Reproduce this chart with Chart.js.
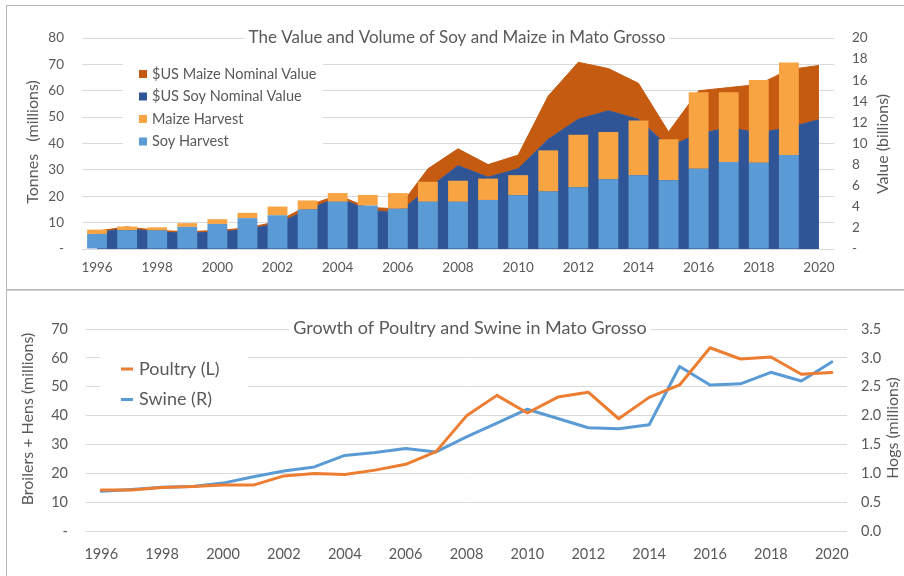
<!DOCTYPE html>
<html>
<head>
<meta charset="utf-8">
<script src="https://cdn.jsdelivr.net/npm/chart.js@4.4.1/dist/chart.umd.min.js"></script>
<style>
  html, body { margin: 0; padding: 0; background: #fff; }
  body { width: 904px; height: 576px; position: relative; overflow: hidden; }
  .frame { position: absolute; border: 1px solid #b8b8b8; box-sizing: border-box; }
  #frame-top { left: 6px; top: 5px; width: 920px; height: 285px; }
  #frame-bottom { left: 6px; top: 290px; width: 920px; height: 300px; border-top-color: #d0d0d0; }
  canvas { position: absolute; left: 0; }
  #chart-value { top: 0; }
  #chart-livestock { top: 290px; }
</style>
</head>
<body>
<div class="frame" id="frame-top"></div>
<div class="frame" id="frame-bottom"></div>
<canvas id="chart-value" width="904" height="290"></canvas>
<canvas id="chart-livestock" width="904" height="286"></canvas>
<script>
// Données (Mato Grosso)
const years = ['1996', '1997', '1998', '1999', '2000', '2001', '2002', '2003', '2004', '2005', '2006', '2007',
    '2008', '2009', '2010', '2011', '2012', '2013', '2014', '2015', '2016', '2017', '2018', '2019', '2020'];

// tonnes (millions)
const soyHarvest = [5.7, 7.1, 7.1, 8.4, 9.5, 11.7, 12.8, 15.0, 17.9, 16.5, 15.3, 17.9,
    17.9, 18.6, 20.4, 21.8, 23.4, 26.4, 28.0, 26.1, 30.4, 33.0, 32.7, 35.6, null];
const maizeHarvest = [1.65, 1.4, 1.1, 1.4, 1.8, 2.0, 3.3, 3.4, 3.3, 4.0, 5.9, 7.6,
    8.0, 8.1, 7.6, 15.6, 19.9, 18.0, 20.7, 15.5, 29.0, 26.4, 31.4, 35.1, null];

// valeur nominale, $US (milliards)
const soyValue = [1.55, 1.95, 1.6, 1.5, 1.6, 1.85, 2.4, 3.7, 4.9, 3.7, 3.4, 5.7,
    7.9, 6.8, 7.6, 10.4, 12.3, 13.1, 12.3, 9.7, 10.9, 11.5, 11.0, 11.5, 12.25];
const maizeValue = [0.15, 0.15, 0.15, 0.15, 0.15, 0.15, 0.2, 0.4, 0.2, 0.25, 0.4, 1.9,
    1.6, 1.2, 1.3, 4.1, 5.4, 4.0, 3.4, 1.4, 4.1, 3.8, 4.6, 5.5, 5.15];

// volailles (millions, axe gauche) et porcs (millions, axe droit)
const poultry = [14.2, 14.2, 15.1, 15.4, 15.9, 15.9, 19.1, 19.9, 19.6, 21.1, 23.1, 27.5,
    39.9, 47.0, 40.9, 46.4, 48.1, 38.9, 46.3, 50.6, 63.5, 59.6, 60.3, 54.3, 54.9];
const swine = [0.69, 0.72, 0.76, 0.77, 0.83, 0.94, 1.04, 1.11, 1.31, 1.36, 1.43, 1.37,
    1.63, 1.87, 2.11, 1.95, 1.79, 1.77, 1.84, 2.85, 2.53, 2.55, 2.75, 2.60, 2.93];

const textColor = '#595959';
const gridColor = '#d9d9d9';
const fontFamily = 'Lato, "Open Sans", sans-serif';

Chart.defaults.font.family = fontFamily;
Chart.defaults.color = textColor;

// Titre, titres d'axes et légende dessinés à la main (fond blanc par-dessus la grille)
const decor = {
    id: 'decor',
    afterDatasetsDraw(chart, args, opts) {
        const ctx = chart.ctx;
        ctx.save();
        ctx.textBaseline = 'middle';

        if (opts.legend) {
            const lg = opts.legend;
            ctx.fillStyle = '#fff';
            ctx.fillRect(lg.box[0], lg.box[1], lg.box[2], lg.box[3]);
            ctx.font = lg.font;
            ctx.textAlign = 'left';
            lg.items.forEach((idx, i) => {
                const ds = chart.data.datasets[idx];
                const y = lg.y + i * lg.gap;
                const color = ds.type === 'line' && lg.marker === 'line' ? ds.borderColor : ds.backgroundColor;
                if (lg.marker === 'line') {
                    ctx.strokeStyle = color;
                    ctx.lineWidth = 3;
                    ctx.beginPath();
                    ctx.moveTo(lg.x, y);
                    ctx.lineTo(lg.x + 12, y);
                    ctx.stroke();
                } else {
                    ctx.fillStyle = color;
                    ctx.fillRect(lg.x, y - 4, 8, 8);
                }
                ctx.fillStyle = textColor;
                ctx.fillText(ds.label, lg.textX, y);
            });
        }

        if (opts.title) {
            const t = opts.title;
            ctx.font = t.font;
            const w = ctx.measureText(t.text).width;
            ctx.fillStyle = '#fff';
            ctx.fillRect(t.x - w / 2 - 4, t.y - 10, w + 8, 20);
            ctx.fillStyle = textColor;
            ctx.textAlign = 'center';
            ctx.fillText(t.text, t.x, t.y);
        }

        (opts.axisTitles || []).forEach(a => {
            ctx.save();
            ctx.translate(a.x, a.y);
            ctx.rotate(-Math.PI / 2);
            ctx.font = a.font;
            ctx.fillStyle = textColor;
            ctx.textAlign = 'center';
            ctx.fillText(a.text, 0, 0);
            ctx.restore();
        });
        ctx.restore();
    }
};

const dashZero = v => (v === 0 ? '-' : v);

// --- Graphique du haut : volumes (barres) et valeurs (aires empilées)
new Chart(document.getElementById('chart-value'), {
    data: {
        labels: years,
        datasets: [
            {
                type: 'line', label: '$US Soy Nominal Value', data: soyValue, yAxisID: 'y2', stack: 'value',
                backgroundColor: '#2F5597', borderColor: '#2F5597', borderWidth: 1, pointRadius: 0,
                fill: 'origin', order: 2,
            },
            {
                type: 'line', label: '$US Maize Nominal Value', data: maizeValue, yAxisID: 'y2', stack: 'value',
                backgroundColor: '#C55A11', borderColor: '#C55A11', borderWidth: 1, pointRadius: 0,
                fill: '-1', order: 2,
            },
            {
                type: 'bar', label: 'Soy Harvest', data: soyHarvest, yAxisID: 'y', stack: 'harvest',
                backgroundColor: '#5B9BD5', barPercentage: 0.66, categoryPercentage: 1, order: 1,
            },
            {
                type: 'bar', label: 'Maize Harvest', data: maizeHarvest, yAxisID: 'y', stack: 'harvest',
                backgroundColor: '#F9A443', barPercentage: 0.66, categoryPercentage: 1, order: 1,
            },
        ],
    },
    options: {
        responsive: false,
        animation: false,
        layout: { padding: { top: 38, left: 0, right: 0, bottom: 0 } },
        plugins: {
            legend: { display: false },
            tooltip: { enabled: false },
            decor: {
                title: { text: 'The Value and Volume of Soy and Maize in Mato Grosso', x: 457, y: 38, font: '17px ' + fontFamily },
                axisTitles: [
                    { text: 'Tonnes   (millions)', x: 33, y: 142, font: '16px ' + fontFamily },
                    { text: 'Value (billions)', x: 883, y: 144, font: '16px ' + fontFamily },
                ],
                legend: {
                    box: [123, 58, 200, 98], items: [1, 0, 3, 2], x: 139, textX: 152, y: 74, gap: 22.5,
                    marker: 'box', font: '14.5px ' + fontFamily,
                },
            },
        },
        scales: {
            x: {
                stacked: true, offset: true,
                grid: { display: false, drawTicks: false }, border: { display: false },
                ticks: {
                    autoSkip: false, maxRotation: 0, padding: 11, font: { size: 13.5 },
                    callback: (v, i) => (i % 2 ? '' : years[i]),
                },
                afterFit: s => { s.height = 41; },
            },
            y: {
                position: 'left', stacked: true, min: 0, max: 80,
                grid: { color: gridColor, drawTicks: false }, border: { display: false },
                ticks: { stepSize: 10, padding: 18, font: { size: 13.5 }, callback: dashZero },
                afterFit: s => { s.width = 82; },
            },
            y2: {
                position: 'right', stacked: true, min: 0, max: 20,
                grid: { display: false, drawTicks: false }, border: { display: false },
                ticks: { stepSize: 2, padding: 18, font: { size: 13.5 }, callback: dashZero },
                afterFit: s => { s.width = 70; },
            },
        },
    },
    plugins: [decor],
});

// --- Graphique du bas : volailles et porcs
new Chart(document.getElementById('chart-livestock'), {
    type: 'line',
    data: {
        labels: years,
        datasets: [
            {
                label: 'Poultry (L)', data: poultry, yAxisID: 'y',
                borderColor: '#ED7D31', backgroundColor: '#ED7D31', borderWidth: 3, pointRadius: 0,
                borderJoinStyle: 'round', borderCapStyle: 'round', tension: 0,
            },
            {
                label: 'Swine (R)', data: swine, yAxisID: 'y2',
                borderColor: '#5B9BD5', backgroundColor: '#5B9BD5', borderWidth: 3, pointRadius: 0,
                borderJoinStyle: 'round', borderCapStyle: 'round', tension: 0,
            },
        ],
    },
    options: {
        responsive: false,
        animation: false,
        layout: { padding: { top: 39, left: 0, right: 0, bottom: 0 } },
        plugins: {
            legend: { display: false },
            tooltip: { enabled: false },
            decor: {
                title: { text: 'Growth of Poultry and Swine in Mato Grosso', x: 470, y: 38, font: '18px ' + fontFamily },
                axisTitles: [
                    { text: 'Broilers + Hens (millions)', x: 28, y: 129, font: '16px ' + fontFamily },
                    { text: 'Hogs (millions)', x: 893, y: 138, font: '16px ' + fontFamily },
                ],
                legend: {
                    box: [100, 52, 148, 70], items: [0, 1], x: 121, textX: 139, y: 79, gap: 30.5,
                    marker: 'line', font: '18px ' + fontFamily,
                },
            },
        },
        scales: {
            x: {
                offset: true,
                grid: { display: false, drawTicks: false }, border: { display: false },
                ticks: {
                    autoSkip: false, maxRotation: 0, padding: 15, font: { size: 14.5 },
                    callback: (v, i) => (i % 2 ? '' : years[i]),
                },
                afterFit: s => { s.height = 45; },
            },
            y: {
                position: 'left', min: 0, max: 70,
                grid: { color: gridColor, drawTicks: false }, border: { display: false },
                ticks: { stepSize: 10, padding: 18, font: { size: 14.5 }, callback: dashZero },
                afterFit: s => { s.width = 86; },
            },
            y2: {
                position: 'right', min: 0, max: 3.5,
                grid: { display: false, drawTicks: false }, border: { display: false },
                ticks: { stepSize: 0.5, padding: 14, font: { size: 14.5 }, callback: v => v.toFixed(1) },
                afterFit: s => { s.width = 57; },
            },
        },
    },
    plugins: [decor],
});
</script>
</body>
</html>
